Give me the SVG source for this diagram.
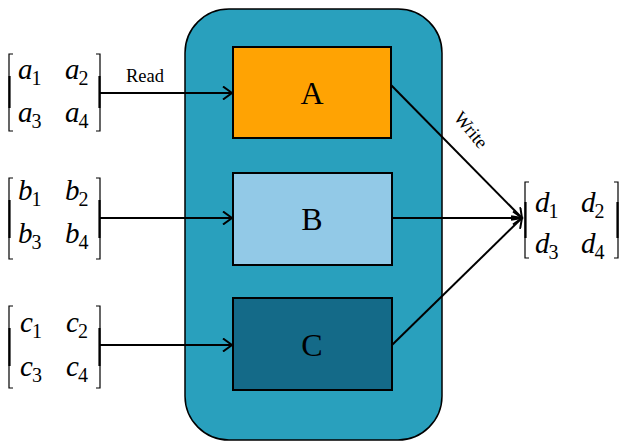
<svg xmlns="http://www.w3.org/2000/svg" width="619" height="442" viewBox="0 0 619 442">
  <defs>
    <marker id="arrow" viewBox="0 0 14 14" refX="11" refY="7" markerWidth="14" markerHeight="14" markerUnits="userSpaceOnUse" orient="auto">
      <path d="M2,0.5 L11,7 L2,13.5" fill="none" stroke="#000" stroke-width="2"/>
    </marker>
    <style>
      .frame { fill: #29A0BD; stroke: #000; stroke-width: 1.5; }
      .box { stroke: #000; stroke-width: 2; }
      .lbl { font-family: "Liberation Serif", "Times New Roman", serif; font-size: 32px; fill: #000; text-anchor: middle; }
      .m { font-family: "Liberation Serif", "Times New Roman", serif; font-style: italic; font-size: 29px; fill: #000; }
      .s { font-style: normal; font-size: 20px; }
      .br { fill: none; stroke: #000; stroke-width: 1.2; }
      .brm { stroke: #000; stroke-width: 2.2; }
      .cap { font-family: "Liberation Serif", "Times New Roman", serif; font-size: 18.5px; fill: #000; }
      .edge { fill: none; stroke: #000; stroke-width: 2; marker-end: url(#arrow); }
    </style>
  </defs>

  <rect width="619" height="442" fill="#fff"/>

  <!-- processing unit -->
  <g id="unit">
    <rect class="frame" x="185" y="9" width="257" height="431" rx="44" ry="44"/>
  </g>

  <g id="node-A">
    <rect class="box" x="233" y="47" width="158" height="91" fill="#FFA303"/>
    <text class="lbl" x="312" y="104">A</text>
  </g>
  <g id="node-B">
    <rect class="box" x="233" y="173" width="159" height="92" fill="#92C9E7"/>
    <text class="lbl" x="312" y="230">B</text>
  </g>
  <g id="node-C">
    <rect class="box" x="233" y="298" width="159" height="92" fill="#146A88"/>
    <text class="lbl" x="312" y="356">C</text>
  </g>

  <!-- input matrix a -->
  <g id="matrix-a">
    <path class="br" d="M13,54 H9 V131 H13 M96,54 H100 V131 H96"/>
    <line class="brm" x1="9.5" y1="76" x2="9.5" y2="108"/>
    <line class="brm" x1="99.5" y1="76" x2="99.5" y2="108"/>
    <text class="m" x="18" y="79">a<tspan class="s" dx="-1" dy="6">1</tspan></text>
    <text class="m" x="65" y="79">a<tspan class="s" dx="-1" dy="6">2</tspan></text>
    <text class="m" x="18" y="122">a<tspan class="s" dx="-1" dy="6">3</tspan></text>
    <text class="m" x="65" y="122">a<tspan class="s" dx="-1" dy="6">4</tspan></text>
  </g>

  <!-- input matrix b -->
  <g id="matrix-b">
    <path class="br" d="M13,178 H9 V259 H13 M96,178 H100 V259 H96"/>
    <line class="brm" x1="9.5" y1="200" x2="9.5" y2="238"/>
    <line class="brm" x1="99.5" y1="200" x2="99.5" y2="238"/>
    <text class="m" x="18" y="200">b<tspan class="s" dx="-1" dy="6">1</tspan></text>
    <text class="m" x="65" y="200">b<tspan class="s" dx="-1" dy="6">2</tspan></text>
    <text class="m" x="18" y="243">b<tspan class="s" dx="-1" dy="6">3</tspan></text>
    <text class="m" x="65" y="243">b<tspan class="s" dx="-1" dy="6">4</tspan></text>
  </g>

  <!-- input matrix c -->
  <g id="matrix-c">
    <path class="br" d="M13,306 H9 V388 H13 M96,306 H100 V388 H96"/>
    <line class="brm" x1="9.5" y1="328" x2="9.5" y2="366"/>
    <line class="brm" x1="99.5" y1="328" x2="99.5" y2="366"/>
    <text class="m" x="20" y="332">c<tspan class="s" dx="-1" dy="6">1</tspan></text>
    <text class="m" x="66" y="332">c<tspan class="s" dx="-1" dy="6">2</tspan></text>
    <text class="m" x="20" y="376">c<tspan class="s" dx="-1" dy="6">3</tspan></text>
    <text class="m" x="66" y="376">c<tspan class="s" dx="-1" dy="6">4</tspan></text>
  </g>

  <!-- output matrix d -->
  <g id="matrix-d">
    <path class="br" d="M529,182 H525 V258 H529 M614,182 H618 V258 H614"/>
    <line class="brm" x1="525.5" y1="202" x2="525.5" y2="238"/>
    <line class="brm" x1="617.5" y1="202" x2="617.5" y2="238"/>
    <text class="m" x="535" y="212">d<tspan class="s" dx="-1" dy="6">1</tspan></text>
    <text class="m" x="581" y="212">d<tspan class="s" dx="-1" dy="6">2</tspan></text>
    <text class="m" x="535" y="253">d<tspan class="s" dx="-1" dy="6">3</tspan></text>
    <text class="m" x="581" y="253">d<tspan class="s" dx="-1" dy="6">4</tspan></text>
  </g>

  <!-- connectors -->
  <g id="connectors">
    <line class="edge" x1="100" y1="93" x2="232" y2="93"/>
    <line class="edge" x1="100" y1="218" x2="232" y2="218"/>
    <line class="edge" x1="100" y1="345" x2="232" y2="345"/>
    <line class="edge" x1="391" y1="85" x2="522" y2="218"/>
    <line class="edge" x1="392" y1="218" x2="522" y2="218"/>
    <line class="edge" x1="392" y1="345" x2="522" y2="218"/>
    <text class="cap" x="126" y="82">Read</text>
    <text class="cap" x="0" y="0" transform="translate(453,118) rotate(50)">Write</text>
  </g>
</svg>
